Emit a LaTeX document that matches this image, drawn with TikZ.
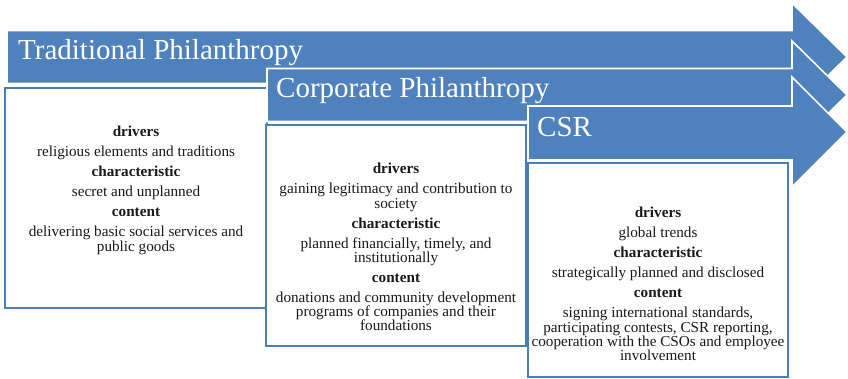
\documentclass[tikz,border=0pt]{standalone}
\usepackage{fontspec}
\setmainfont{Liberation Serif}
\definecolor{ablue}{HTML}{4F81BD}
\definecolor{bblue}{HTML}{4A7EBB}
\newcommand{\hd}[1]{\textbf{#1}}
\newcommand{\pgap}{\\[5.7pt]}
\tikzset{
  arrowshape/.style={fill=ablue, draw=white, line width=1.6pt, line join=miter},
  titletext/.style={font={\fontsize{29}{34}\selectfont}, text=white, inner sep=0pt, anchor=base west},
  boxst/.style={draw=bblue, line width=2.6pt, fill=white, inner sep=0pt, rectangle},
  bodytext/.style={font={\fontsize{15.2}{14.3}\selectfont}, align=center, inner sep=0pt, anchor=north, text=black!90}
}
\begin{document}
\begin{tikzpicture}[x=1pt, y=-1pt]
\useasboundingbox (0,0) rectangle (848,379);
% arrow 1
\path[arrowshape] (7,30.5) -- (792,30.5) -- (792,3) -- (847,57) -- (792,111) -- (792,83.5) -- (7,83.5) -- cycle;
\node[titletext] (t1) at (18,60) {Traditional Philanthropy};
\node[boxst, minimum width=262, minimum height=220] (b1) at (136,198) {};
\node[bodytext] (x1) at (136,126) {\hd{drivers}\pgap religious elements and traditions\pgap
\hd{characteristic}\pgap secret and unplanned\pgap
\hd{content}\pgap delivering basic social services and\\public goods};
% arrow 2
\path[arrowshape] (267,68.5) -- (792,68.5) -- (792,41) -- (847,95) -- (792,149) -- (792,121.5) -- (267,121.5) -- cycle;
\node[titletext] (t2) at (276,98) {Corporate Philanthropy};
\node[boxst, minimum width=260, minimum height=221] (b2) at (396,235.5) {};
\node[bodytext] (x2) at (396,163) {\hd{drivers}\pgap gaining legitimacy and contribution to\\society\pgap
\hd{characteristic}\pgap planned financially, timely, and\\institutionally\pgap
\hd{content}\pgap donations and community development\\programs of companies and their\\foundations};
% arrow 3
\path[arrowshape] (528,106) -- (792,106) -- (792,77) -- (847,132) -- (792,187) -- (792,160) -- (528,160) -- cycle;
\node[titletext] (t3) at (537,137) {CSR};
\node[boxst, minimum width=260, minimum height=214] (b3) at (658,270) {};
\node[bodytext] (x3) at (658,207) {\hd{drivers}\pgap global trends\pgap
\hd{characteristic}\pgap strategically planned and disclosed\pgap
\hd{content}\pgap signing international standards,\\participating contests, CSR reporting,\\cooperation with the CSOs and employee\\involvement};
\end{tikzpicture}
\end{document}
